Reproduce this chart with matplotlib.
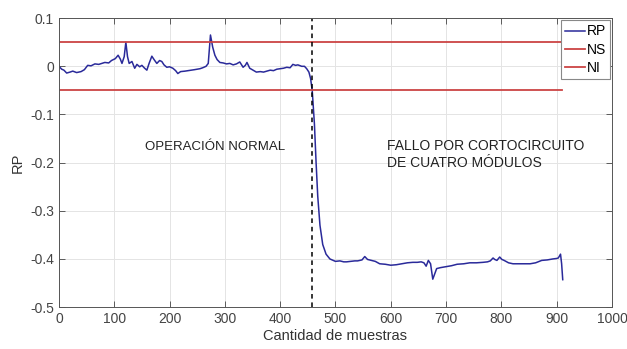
import matplotlib.pyplot as plt
from matplotlib.ticker import MultipleLocator

plt.rcParams['font.family'] = ['Liberation Sans', 'DejaVu Sans']

# RP signal, sampled at the points where its shape changes
muestras = [0, 5, 9, 14, 20, 25, 32, 40, 46, 52, 58, 65, 72, 83, 90, 95, 102,
            107, 111, 114, 118, 121, 124, 127, 132, 137, 141, 146, 150, 155, 159,
            163, 168, 172, 177, 182, 186, 190, 195, 200, 206, 211, 215, 220, 228,
            234, 240, 245, 250, 255, 260, 266, 270, 274, 278, 282, 286, 291, 297,
            303, 309, 315, 321, 327, 333, 337, 340, 345, 351, 357, 364, 370, 376,
            382, 388, 394, 400, 406, 412, 418, 423, 428, 432, 439, 444, 448, 452,
            455, 458, 462, 465, 468, 472, 477, 483, 490, 500, 508, 515, 520, 528,
            535, 540, 548, 553, 558, 565, 572, 580, 590, 600, 610, 620, 630, 640,
            648, 655, 660, 664, 668, 672, 676, 683, 690, 700, 710, 720, 732, 743,
            755, 767, 775, 780, 785, 788, 792, 797, 801, 805, 813, 821, 830, 840,
            852, 862, 873, 883, 893, 900, 903, 907, 909, 911]
rp = [0.0, -0.006, -0.008, -0.014, -0.012, -0.01, -0.013, -0.011, -0.007, 0.002,
      0.001, 0.005, 0.004, 0.008, 0.007, 0.012, 0.016, 0.023, 0.015, 0.006, 0.02,
      0.05, 0.02, 0.006, 0.01, -0.004, 0.004, -0.001, 0.002, -0.004, -0.008,
      0.006, 0.021, 0.014, 0.006, 0.012, 0.01, 0.003, -0.002, -0.001, -0.004,
      -0.009, -0.015, -0.011, -0.01, -0.009, -0.008, -0.007, -0.006, -0.005,
      -0.003, 0.0, 0.006, 0.065, 0.04, 0.023, 0.014, 0.008, 0.007, 0.005, 0.006,
      0.003, 0.005, 0.009, -0.002, 0.002, 0.008, -0.004, -0.008, -0.012, -0.011,
      -0.012, -0.01, -0.008, -0.009, -0.006, -0.005, -0.004, -0.002, -0.003,
      0.004, 0.002, 0.003, 0.0, 0.0, -0.005, -0.012, -0.025, -0.05, -0.12, -0.2,
      -0.27, -0.33, -0.37, -0.39, -0.4, -0.405, -0.404, -0.406, -0.406, -0.405,
      -0.404, -0.404, -0.402, -0.395, -0.401, -0.403, -0.405, -0.41, -0.411,
      -0.413, -0.412, -0.41, -0.408, -0.407, -0.407, -0.406, -0.408, -0.415,
      -0.403, -0.41, -0.442, -0.42, -0.418, -0.416, -0.414, -0.411, -0.41, -0.408,
      -0.408, -0.407, -0.406, -0.404, -0.398, -0.401, -0.403, -0.396, -0.401,
      -0.403, -0.408, -0.41, -0.41, -0.41, -0.41, -0.408, -0.403, -0.402, -0.4,
      -0.399, -0.398, -0.39, -0.41, -0.443]

# Upper and lower thresholds
ns = 0.05
ni = -0.05
limite_x = [0, 910]
instante_fallo = 458

fig, ax = plt.subplots(figsize=(6.27, 3.49), dpi=100)
fig.subplots_adjust(left=0.094, right=0.976, top=0.948, bottom=0.12)

ax.plot(muestras, rp, color='#2a2a9a', lw=1.1, label='RP')
ax.plot(limite_x, [ns, ns], color='#cc4444', lw=1.3, label='NS')
ax.plot(limite_x, [ni, ni], color='#cc4444', lw=1.3, label='NI')
ax.axvline(instante_fallo, color='black', lw=1.1, ls=(0, (3, 2.5)))

ax.text(282, -0.168, 'OPERACIÓN NORMAL', fontsize=9.5, color='#222222',
        ha='center', va='center')
ax.text(593, -0.183, 'FALLO POR CORTOCIRCUITO\nDE CUATRO MÓDULOS', fontsize=10,
        color='#222222', ha='left', va='center', linespacing=1.25)

ax.set_xlim(0, 1000)
ax.set_ylim(-0.5, 0.1)
ax.xaxis.set_major_locator(MultipleLocator(100))
ax.yaxis.set_major_locator(MultipleLocator(0.1))
ax.yaxis.set_major_formatter(plt.FuncFormatter(lambda v, p: f'{round(v, 2):g}'))
ax.tick_params(direction='in', top=True, right=True, length=4, width=0.6,
               colors='#444444', labelsize=10, labelcolor='#444444')
ax.grid(True, color='#e4e4e4', lw=0.7)
for s in ax.spines.values():
    s.set_color('#555555')
    s.set_linewidth(0.7)

ax.set_xlabel('Cantidad de muestras', fontsize=10.5, color='#333333', labelpad=2)
ax.set_ylabel('RP', fontsize=10.5, color='#333333', labelpad=4)

leg = ax.legend(loc='upper right', fontsize=10, handlelength=1.45,
                handletextpad=0.1, borderpad=0.3, labelspacing=0.3,
                borderaxespad=0.15, fancybox=False, framealpha=1)
leg.get_frame().set_edgecolor('#888888')
leg.get_frame().set_linewidth(0.8)

fig.savefig('out.png', dpi=100)
